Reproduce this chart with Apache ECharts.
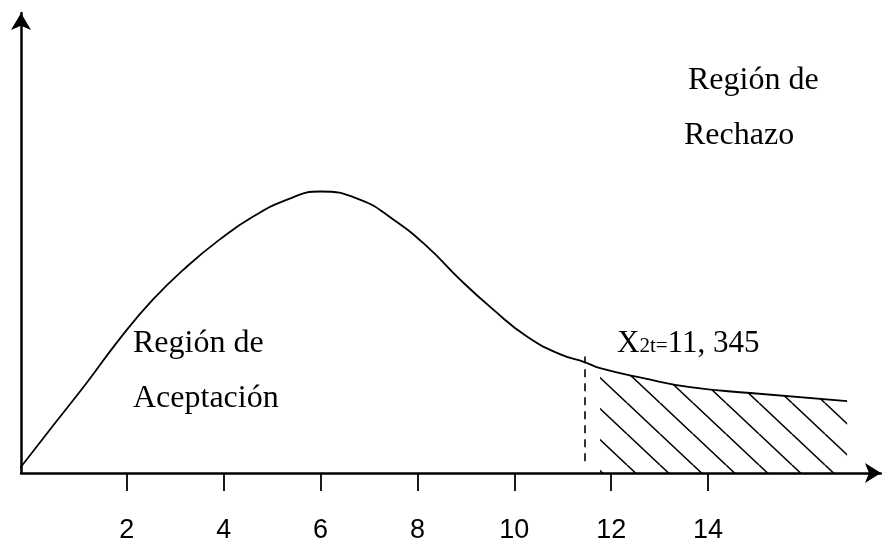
<!DOCTYPE html>
<html>
<head>
<meta charset="utf-8">
<script src="https://cdn.jsdelivr.net/npm/echarts@6/dist/echarts.min.js"></script>
<style>
  html, body { margin: 0; padding: 0; background: #fff; }
  #chart { width: 882px; height: 544px; }
</style>
</head>
<body>
<div id="chart"></div>
<script>
// curve (x in chi-square units, y in relative height)
const curveX = [-0.35, 0.47, 1.18, 1.86, 2.54, 3.24, 3.92, 4.60, 5.31, 5.99, 6.81, 7.50, 8.20, 8.88, 9.56, 10.26, 10.94, 11.46, 11.77, 12.66, 13.63, 14.87, 16.87]
const curveY = [-0.9, 10.4, 20.1, 29.8, 38.4, 45.7, 51.7, 56.7, 60.5, 62.3, 60.5, 56.1, 50.1, 42.8, 36.2, 30.2, 26.3, 24.5, 23.2, 21.0, 19.0, 17.7, 15.9]

const tickValues = [2, 4, 6, 8, 10, 12, 14]
const criticalX = 11.46          // dashed line
const criticalY = [2.6, 25.8]    // dashed line from / to
const hatchStart = 11.77         // rejection area starts here

const curveData = curveX.map((x, i) => [x, curveY[i]])
const tailData = curveData.filter(d => d[0] >= hatchStart)

function hatchPattern(w, h) {
  const c = document.createElement('canvas')
  c.width = w
  c.height = h
  const ctx = c.getContext('2d')
  ctx.strokeStyle = '#000'
  ctx.lineWidth = 1.5
  for (const n of [-1, 0, 1]) {
    ctx.beginPath()
    ctx.moveTo(0, n * h)
    ctx.lineTo(w, h + n * h)
    ctx.stroke()
  }
  return c
}

const chart = echarts.init(document.getElementById('chart'))
const serif = '"Liberation Serif", "Times New Roman", serif'

chart.setOption({
  animation: false,
  grid: { left: 21, right: 1, top: 13, bottom: 70 },
  xAxis: {
    type: 'value', min: -0.186, max: 17.57,
    splitLine: { show: false },
    axisLine: {
      onZero: false,
      symbol: ['none', 'arrow'], symbolSize: [15, 16],
      lineStyle: { color: '#000', width: 2.5 }
    },
    axisTick: { customValues: tickValues, length: 18, lineStyle: { color: '#000', width: 1.8 } },
    axisLabel: {
      customValues: tickValues, margin: 44,
      color: '#000', fontSize: 27, fontFamily: '"Liberation Sans", Arial, sans-serif'
    }
  },
  yAxis: {
    type: 'value', min: 0, max: 101.8,
    splitLine: { show: false },
    axisTick: { show: false },
    axisLabel: { show: false },
    axisLine: {
      onZero: false,
      symbol: ['none', 'arrow'], symbolSize: [15, 17],
      lineStyle: { color: '#000', width: 2.5 }
    }
  },
  series: [
    {
      type: 'line', data: tailData, smooth: 0.5, clip: false,
      showSymbol: false, silent: true,
      lineStyle: { width: 0 },
      areaStyle: { color: { image: hatchPattern(33, 31), repeat: 'repeat' }, opacity: 1 }
    },
    {
      type: 'line', data: curveData, smooth: 0.5, clip: false,
      showSymbol: false, silent: true,
      lineStyle: { color: '#000', width: 1.8 },
      markLine: {
        silent: true, symbol: 'none', label: { show: false },
        lineStyle: { color: '#000', width: 1.6, type: [8, 6] },
        data: [[{ coord: [criticalX, criticalY[0]] }, { coord: [criticalX, criticalY[1]] }]]
      }
    }
  ],
  graphic: [
    { type: 'text', x: 133, y: 344, style: { text: 'Región de', font: '32px ' + serif, fill: '#000', verticalAlign: 'middle' } },
    { type: 'text', x: 133, y: 399, style: { text: 'Aceptación', font: '32px ' + serif, fill: '#000', verticalAlign: 'middle' } },
    { type: 'text', x: 688, y: 81, style: { text: 'Región de', font: '32px ' + serif, fill: '#000', verticalAlign: 'middle' } },
    { type: 'text', x: 684, y: 136, style: { text: 'Rechazo', font: '32px ' + serif, fill: '#000', verticalAlign: 'middle' } },
    {
      type: 'text', x: 617, y: 344,
      style: {
        text: '{a|X}{b|2t=}{a|11, 345}', verticalAlign: 'middle',
        rich: {
          a: { fontSize: 31, fontFamily: serif, color: '#000' },
          b: { fontSize: 21, fontFamily: serif, color: '#000', verticalAlign: 'bottom', padding: [0, 0, 3, 0] }
        }
      }
    }
  ]
})

window.addEventListener('resize', () => chart.resize())
</script>
</body>
</html>
